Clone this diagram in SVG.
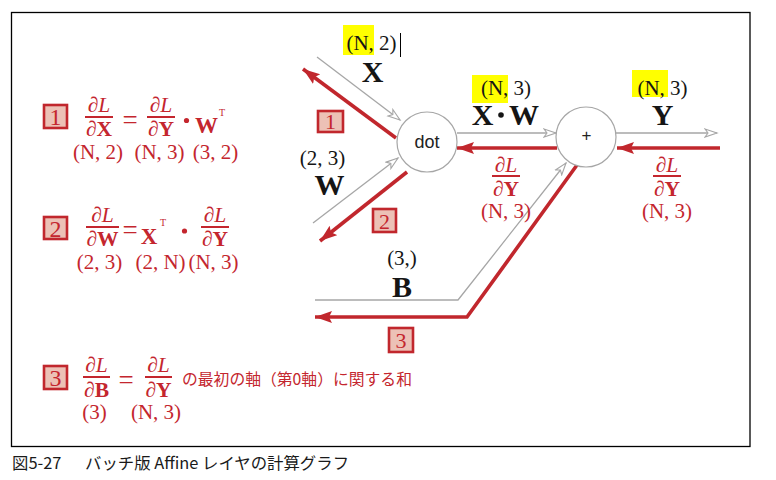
<svg xmlns="http://www.w3.org/2000/svg" width="776" height="480" viewBox="0 0 776 480">
<style>
.m{font-family:"Liberation Serif","Times New Roman",serif}
.r{fill:#c4262e}
.k{fill:#151515}
.it{font-style:italic}
.b{font-weight:bold}
.frac{font-size:21.5px}
.dim{font-size:21px}
.big{font-size:30px;font-weight:bold}
.bar{stroke:#c4262e;stroke-width:2}
.gl{stroke:#a6a6a6;stroke-width:1.3;fill:none}
.rl{stroke:#c1272d;stroke-width:3.6;fill:none}
.node{fill:#fff;stroke:#a6a6a6;stroke-width:1.2}
.box{fill:#ecc1b6;stroke:#c1272d;stroke-width:2.6}
.hl{fill:#ffff00}
.jp{font-family:"Noto Sans CJK JP","Noto Sans",sans-serif}
</style>
<defs>
<marker id="ga" markerUnits="userSpaceOnUse" markerWidth="16" markerHeight="12" refX="13" refY="5" orient="auto">
<path d="M1,1 L13,5 L1,9 L4,5 Z" fill="#fff" stroke="#a6a6a6" stroke-width="1.1"/>
</marker>
<marker id="ra" markerUnits="userSpaceOnUse" markerWidth="20" markerHeight="14" refX="17" refY="6" orient="auto">
<path d="M0,0 L17,6 L0,12 L3,6 Z" fill="#c1272d"/>
</marker>
</defs>
<rect x="0" y="0" width="776" height="480" fill="#fff"/>
<rect x="11.5" y="12.5" width="738.5" height="434" fill="none" stroke="#000" stroke-width="1.3"/>

<g id="highlights">
<rect class="hl" x="343" y="25" width="31" height="30"/>
<rect class="hl" x="472" y="75" width="36" height="28"/>
<rect class="hl" x="632" y="70" width="36" height="27"/>
</g>

<g id="connectors">
<line class="gl" x1="317" y1="57" x2="400" y2="120" marker-end="url(#ga)"/>
<line class="gl" x1="313" y1="223" x2="398" y2="158" marker-end="url(#ga)"/>
<line class="gl" x1="457" y1="133" x2="556" y2="133" marker-end="url(#ga)"/>
<line class="gl" x1="616" y1="133" x2="717" y2="133" marker-end="url(#ga)"/>
<polyline class="gl" points="315,300 458,300 566,163" marker-end="url(#ga)"/>
<line class="rl" x1="396" y1="138" x2="303" y2="69" marker-end="url(#ra)"/>
<line class="rl" x1="407" y1="172" x2="320" y2="241" marker-end="url(#ra)"/>
<line class="rl" x1="557" y1="148" x2="457" y2="148" marker-end="url(#ra)"/>
<line class="rl" x1="720" y1="148" x2="617" y2="148" marker-end="url(#ra)"/>
<polyline class="rl" points="577,165 467,317 315,317" marker-end="url(#ra)"/>
</g>

<g id="node-dot">
<circle class="node" cx="427" cy="142" r="30"/>
<text x="427" y="148" text-anchor="middle" font-family="Liberation Sans, Arial, sans-serif" font-size="18" fill="#222">dot</text>
</g>
<g id="node-plus">
<circle class="node" cx="586" cy="137" r="30"/>
<text x="586.5" y="141" text-anchor="middle" font-family="Liberation Sans, Arial, sans-serif" font-size="17" fill="#222">+</text>
</g>

<g id="label-X">
<text class="m k dim" x="371.5" y="49.5" text-anchor="middle">(N, 2)</text>
<line x1="400.5" y1="33" x2="400.5" y2="57" stroke="#000" stroke-width="1"/>
<text class="m k big" x="372.5" y="82" text-anchor="middle">X</text>
</g>
<g id="label-W">
<text class="m k dim" x="322.5" y="165" text-anchor="middle">(2, 3)</text>
<text class="m k big" x="329.5" y="195" text-anchor="middle">W</text>
</g>
<g id="label-XW">
<text class="m k dim" x="506" y="94.5" text-anchor="middle">(N, 3)</text>
<text class="m k big" x="482.5" y="125" text-anchor="middle">X</text>
<circle cx="501" cy="115" r="2.8" fill="#151515"/>
<text class="m k big" x="524" y="125" text-anchor="middle">W</text>
</g>
<g id="label-Y">
<text class="m k dim" x="662.5" y="94.5" text-anchor="middle">(N, 3)</text>
<text class="m k big" x="662.5" y="125" text-anchor="middle">Y</text>
</g>
<g id="label-B">
<text class="m k dim" x="402" y="264.5" text-anchor="middle">(3,)</text>
<text class="m k big" x="402" y="297" text-anchor="middle">B</text>
</g>
<g id="grad-XW">
<text class="m r frac" x="506" y="172" text-anchor="middle">∂<tspan class="it">L</tspan></text>
<line class="bar" x1="492" y1="176" x2="520" y2="176"/>
<text class="m r frac" x="506" y="196" text-anchor="middle">∂<tspan class="b">Y</tspan></text>
<text class="m r dim" x="506" y="218" text-anchor="middle">(N, 3)</text>
</g>
<g id="grad-Y">
<text class="m r frac" x="667" y="172" text-anchor="middle">∂<tspan class="it">L</tspan></text>
<line class="bar" x1="653" y1="176" x2="681" y2="176"/>
<text class="m r frac" x="667" y="196" text-anchor="middle">∂<tspan class="b">Y</tspan></text>
<text class="m r dim" x="667" y="218" text-anchor="middle">(N, 3)</text>
</g>
<g id="tag-1">
<rect class="box" x="318" y="111" width="25" height="21"/>
<text class="m r" x="330.5" y="129" text-anchor="middle" font-size="22">1</text>
</g>
<g id="tag-2">
<rect class="box" x="373" y="209" width="23" height="23"/>
<text class="m r" x="384.5" y="228.5" text-anchor="middle" font-size="22">2</text>
</g>
<g id="tag-3">
<rect class="box" x="389" y="328" width="24" height="24"/>
<text class="m r" x="401" y="348" text-anchor="middle" font-size="22">3</text>
</g>

<g id="formula-1">
<rect class="box" x="44" y="105" width="23" height="23"/>
<text class="m r" x="55.5" y="125" text-anchor="middle" font-size="24">1</text>
<text class="m r frac" x="99" y="112" text-anchor="middle">∂<tspan class="it">L</tspan></text>
<line class="bar" x1="85" y1="117" x2="113" y2="117"/>
<text class="m r frac" x="99" y="136" text-anchor="middle">∂<tspan class="b">X</tspan></text>
<text class="m r" x="130" y="128.5" text-anchor="middle" font-size="27">=</text>
<text class="m r frac" x="161" y="112" text-anchor="middle">∂<tspan class="it">L</tspan></text>
<line class="bar" x1="147" y1="117" x2="175" y2="117"/>
<text class="m r frac" x="161" y="136" text-anchor="middle">∂<tspan class="b">Y</tspan></text>
<circle cx="186.5" cy="120.5" r="2.6" fill="#c4262e"/>
<text class="m r b" x="206.5" y="133" text-anchor="middle" font-size="23">W</text>
<text class="m r" x="222" y="116" text-anchor="middle" font-size="10">T</text>
<text class="m r dim" x="98" y="159" text-anchor="middle">(N, 2)</text>
<text class="m r dim" x="159.5" y="159" text-anchor="middle">(N, 3)</text>
<text class="m r dim" x="215.5" y="159" text-anchor="middle">(3, 2)</text>
</g>

<g id="formula-2">
<rect class="box" x="44" y="217" width="23" height="22"/>
<text class="m r" x="55.5" y="236.5" text-anchor="middle" font-size="24">2</text>
<text class="m r frac" x="102.5" y="222" text-anchor="middle">∂<tspan class="it">L</tspan></text>
<line class="bar" x1="86" y1="227" x2="119" y2="227"/>
<text class="m r frac" x="102.5" y="246" text-anchor="middle">∂<tspan class="b">W</tspan></text>
<text class="m r" x="130" y="239" text-anchor="middle" font-size="27">=</text>
<text class="m r b" x="149" y="244" text-anchor="middle" font-size="23">X</text>
<text class="m r" x="163" y="226" text-anchor="middle" font-size="10">T</text>
<circle cx="184.5" cy="231" r="2.6" fill="#c4262e"/>
<text class="m r frac" x="215" y="222" text-anchor="middle">∂<tspan class="it">L</tspan></text>
<line class="bar" x1="201" y1="227" x2="229" y2="227"/>
<text class="m r frac" x="215" y="246" text-anchor="middle">∂<tspan class="b">Y</tspan></text>
<text class="m r dim" x="99.5" y="269" text-anchor="middle">(2, 3)</text>
<text class="m r dim" x="160.5" y="269" text-anchor="middle">(2, N)</text>
<text class="m r dim" x="213.5" y="269" text-anchor="middle">(N, 3)</text>
</g>

<g id="formula-3">
<rect class="box" x="44" y="366" width="23" height="23"/>
<text class="m r" x="55.5" y="386" text-anchor="middle" font-size="24">3</text>
<text class="m r frac" x="96.5" y="372" text-anchor="middle">∂<tspan class="it">L</tspan></text>
<line class="bar" x1="83" y1="377" x2="110" y2="377"/>
<text class="m r frac" x="96.5" y="397" text-anchor="middle">∂<tspan class="b">B</tspan></text>
<text class="m r" x="126" y="389" text-anchor="middle" font-size="27">=</text>
<text class="m r frac" x="158.5" y="372" text-anchor="middle">∂<tspan class="it">L</tspan></text>
<line class="bar" x1="145" y1="377" x2="172" y2="377"/>
<text class="m r frac" x="158.5" y="397" text-anchor="middle">∂<tspan class="b">Y</tspan></text>
<text class="jp r" x="182" y="384.5" font-size="15.8">の最初の軸（第0軸）に関する和</text>
<text class="m r dim" x="94.5" y="419" text-anchor="middle">(3)</text>
<text class="m r dim" x="156" y="419" text-anchor="middle">(N, 3)</text>
</g>

<g id="caption">
<text class="jp" x="12" y="469" font-size="16.4" fill="#1a1a1a">図5-27</text>
<text class="jp" x="85" y="469" font-size="16.4" fill="#1a1a1a">バッチ版 Affine レイヤの計算グラフ</text>
</g>
</svg>
